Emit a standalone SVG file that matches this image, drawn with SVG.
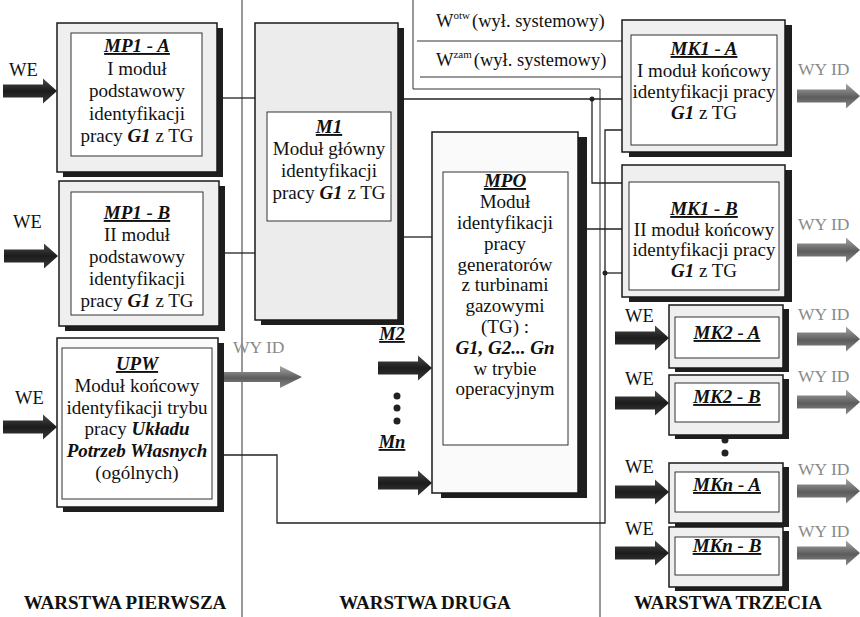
<svg xmlns="http://www.w3.org/2000/svg" xmlns:xlink="http://www.w3.org/1999/xlink" width="860" height="617" viewBox="0 0 860 617">
<defs>
<style>
.box{fill:#efefef;stroke:#1a1a1a;stroke-width:1.5}
.boxw{fill:#fafafa;stroke:#1a1a1a;stroke-width:1.5}
.boxg{fill:#ececec;stroke:#1a1a1a;stroke-width:1.5}
.inner{fill:#fff;stroke:#333;stroke-width:1}
.sh{fill:#1e1e1e}
.t{font-family:"Liberation Serif","Times New Roman",serif;font-size:19px;fill:#111;text-anchor:middle}
.ti{font-weight:bold;font-style:italic;text-decoration:underline}
.bi{font-weight:bold;font-style:italic}
.st{text-anchor:start}
.ws{font-size:18.5px}
.wy{fill:#8a8a8a;font-size:17.5px;text-anchor:start}
.lay{font-weight:bold;font-size:19px}
.wire{stroke:#222;stroke-width:1.3;fill:none}
.thin{stroke:#333;stroke-width:1;fill:none}
</style>
<linearGradient id="gWE" x1="0" y1="0" x2="0" y2="1">
<stop offset="0" stop-color="#4a4a4a"/><stop offset="0.5" stop-color="#1c1c1c"/><stop offset="1" stop-color="#3a3a3a"/>
</linearGradient>
<linearGradient id="gWY" x1="0" y1="0" x2="0" y2="1">
<stop offset="0" stop-color="#a8a8a8"/><stop offset="0.55" stop-color="#5c5c5c"/><stop offset="1" stop-color="#8a8a8a"/>
</linearGradient>
<path id="aWE" d="M-54,-6.5 H-14 V-12.5 L0,0 L-14,12.5 V6.5 H-54 Z"/>
<path id="aWY" d="M0,-6.5 H49 V-12.5 L63,0 L49,12.5 V6.5 H0 Z"/>
<path id="aWY2" d="M0,-5 H57 V-11 L79,0 L57,11 V5 H0 Z"/>
</defs>
<rect width="860" height="617" fill="#fff"/>

<g id="connectors">
<path class="thin" d="M242,0 V617"/>
<path class="thin" d="M413,0 V89 H600 V617"/>
<path class="thin" d="M417,41 H622"/>
<path class="thin" d="M420,77 H622"/>
<path class="wire" d="M223,98 H255"/>
<path class="wire" d="M225,253 H255"/>
<path class="wire" d="M404,237 H432"/>
<path class="wire" d="M404,99 H622"/>
<path class="wire" d="M592,99 V183 H622"/>
<circle cx="592" cy="99" r="2.5" fill="#222"/>
<path class="wire" d="M587,229 H622"/>
<path class="wire" d="M224,455 H277 V523 H605 V130 H622"/>
<path class="wire" d="M605,273 H622"/>
<circle cx="605" cy="273" r="2.5" fill="#222"/>
</g>

<g id="arrows">
<use href="#aWE" x="57" y="91" fill="url(#gWE)"/>
<use href="#aWE" x="58" y="256" fill="url(#gWE)"/>
<use href="#aWE" x="57" y="427" fill="url(#gWE)"/>
<use href="#aWE" x="432" y="368" fill="url(#gWE)"/>
<use href="#aWE" x="432" y="483" fill="url(#gWE)"/>
<use href="#aWE" x="669" y="338" fill="url(#gWE)"/>
<use href="#aWE" x="669" y="403" fill="url(#gWE)"/>
<use href="#aWE" x="669" y="492" fill="url(#gWE)"/>
<use href="#aWE" x="669" y="553" fill="url(#gWE)"/>
<use href="#aWY2" x="223" y="377" fill="url(#gWY)"/>
<use href="#aWY" x="797" y="96" fill="url(#gWY)"/>
<use href="#aWY" x="797" y="250" fill="url(#gWY)"/>
<use href="#aWY" x="797" y="339" fill="url(#gWY)"/>
<use href="#aWY" x="797" y="402" fill="url(#gWY)"/>
<use href="#aWY" x="797" y="491" fill="url(#gWY)"/>
<use href="#aWY" x="797" y="553" fill="url(#gWY)"/>
</g>

<g id="labels">
<text class="t st ws" x="9" y="76">WE</text>
<text class="t st ws" x="13" y="228">WE</text>
<text class="t st ws" x="15" y="404">WE</text>
<text class="t st ws" x="625" y="322">WE</text>
<text class="t st ws" x="625" y="385">WE</text>
<text class="t st ws" x="625" y="473">WE</text>
<text class="t st ws" x="625" y="535">WE</text>
<text class="t wy" x="233" y="353">WY ID</text>
<text class="t wy" x="798" y="75">WY ID</text>
<text class="t wy" x="798" y="230">WY ID</text>
<text class="t wy" x="798" y="320">WY ID</text>
<text class="t wy" x="798" y="382">WY ID</text>
<text class="t wy" x="798" y="475">WY ID</text>
<text class="t wy" x="798" y="537">WY ID</text>
<text class="t ti ws" x="392" y="340">M2</text>
<text class="t ti ws" x="392" y="448">Mn</text>
<circle cx="397" cy="396" r="3.5" fill="#222"/>
<circle cx="397" cy="408" r="3.5" fill="#222"/>
<circle cx="397" cy="421" r="3.5" fill="#222"/>
<circle cx="725" cy="440" r="3.5" fill="#222"/>
<circle cx="725" cy="453" r="3.5" fill="#222"/>
<text class="t st ws" x="436" y="27">W<tspan font-size="11" dy="-8">otw</tspan><tspan dx="2" dy="8">(wył. systemowy)</tspan></text>
<text class="t st ws" x="436" y="66">W<tspan font-size="11" dy="-8">zam</tspan><tspan dx="2" dy="8">(wył. systemowy)</tspan></text>
<text class="t lay" x="125" y="609">WARSTWA PIERWSZA</text>
<text class="t lay" x="425" y="609">WARSTWA DRUGA</text>
<text class="t lay" x="728" y="609">WARSTWA TRZECIA</text>
</g>

<g id="MP1-A">
<rect class="sh" x="63" y="28" width="160" height="149"/>
<rect class="box" x="57" y="23" width="160" height="149"/>
<rect class="inner" x="71" y="33" width="131" height="123"/>
<text class="t ti" x="137" y="52">MP1 - A</text>
<text class="t" x="137" y="74.5">I moduł</text>
<text class="t" x="137" y="97">podstawowy</text>
<text class="t" x="137" y="119.5">identyfikacji</text>
<text class="t" x="137" y="142">pracy <tspan class="bi">G1</tspan> z  TG</text>
</g>

<g id="MP1-B">
<rect class="sh" x="65" y="186" width="160" height="145"/>
<rect class="box" x="59" y="181" width="160" height="145"/>
<rect class="inner" x="71" y="192" width="132" height="123"/>
<text class="t ti" x="137" y="219">MP1 - B</text>
<text class="t" x="137" y="241">II moduł</text>
<text class="t" x="137" y="263">podstawowy</text>
<text class="t" x="137" y="285">identyfikacji</text>
<text class="t" x="137" y="307">pracy <tspan class="bi">G1</tspan> z  TG</text>
</g>

<g id="UPW">
<rect class="sh" x="63" y="343" width="161" height="169"/>
<rect class="boxw" x="57" y="338" width="161" height="169"/>
<rect class="inner" x="62" y="348" width="150" height="151"/>
<text class="t ti" x="137" y="370">UPW</text>
<text class="t" x="137" y="392">Moduł końcowy</text>
<text class="t" x="137" y="413.5">identyfikacji trybu</text>
<text class="t" x="137" y="435">pracy <tspan class="bi">Układu</tspan></text>
<text class="t bi" x="137" y="457">Potrzeb Własnych</text>
<text class="t" x="137" y="478.5">(ogólnych)</text>
</g>

<g id="M1">
<rect class="sh" x="261" y="28" width="143" height="297"/>
<rect class="boxg" x="255" y="23" width="143" height="297"/>
<rect class="inner" x="267" y="112" width="124" height="109"/>
<text class="t ti" x="329" y="133">M1</text>
<text class="t" x="329" y="155">Moduł główny</text>
<text class="t" x="329" y="177">identyfikacji</text>
<text class="t" x="329" y="199">pracy <tspan class="bi">G1</tspan> z  TG</text>
</g>

<g id="MPO">
<rect class="sh" x="441" y="137" width="146" height="361"/>
<rect class="boxw" x="432" y="132" width="146" height="361"/>
<rect class="inner" x="443" y="172" width="125" height="273"/>
<text class="t ti" x="505" y="187">MPO</text>
<text class="t" x="505" y="208">Moduł</text>
<text class="t" x="505" y="229">identyfikacji</text>
<text class="t" x="505" y="249.5">pracy</text>
<text class="t" x="505" y="270.5">generatorów</text>
<text class="t" x="505" y="291">z turbinami</text>
<text class="t" x="505" y="312">gazowymi</text>
<text class="t" x="505" y="333">(TG) :</text>
<text class="t bi" x="505" y="353.5">G1, G2... Gn</text>
<text class="t" x="505" y="374.5">w trybie</text>
<text class="t" x="505" y="395">operacyjnym</text>
</g>

<g id="MK1-A">
<rect class="sh" x="629" y="25" width="163" height="132"/>
<rect class="box" x="622" y="20" width="163" height="132"/>
<rect class="inner" x="631" y="35" width="146" height="110"/>
<text class="t ti" x="704" y="55">MK1 - A</text>
<text class="t" x="704" y="77">I moduł końcowy</text>
<text class="t" x="704" y="98">identyfikacji pracy</text>
<text class="t" x="704" y="119"><tspan class="bi">G1</tspan> z  TG</text>
</g>

<g id="MK1-B">
<rect class="sh" x="629" y="170" width="163" height="132"/>
<rect class="box" x="622" y="165" width="163" height="132"/>
<rect class="inner" x="629" y="182" width="150" height="108"/>
<text class="t ti" x="704" y="215">MK1 - B</text>
<text class="t" x="704" y="236">II moduł końcowy</text>
<text class="t" x="704" y="256">identyfikacji pracy</text>
<text class="t" x="704" y="277"><tspan class="bi">G1</tspan> z  TG</text>
</g>

<g id="MK2-A">
<rect class="sh" x="675" y="309" width="114" height="63"/>
<rect class="box" x="669" y="305" width="114" height="63"/>
<rect class="inner" x="675" y="317" width="104" height="41"/>
<text class="t ti" x="727" y="339">MK2 - A</text>
</g>

<g id="MK2-B">
<rect class="sh" x="675" y="379" width="114" height="60"/>
<rect class="box" x="669" y="375" width="114" height="60"/>
<rect class="inner" x="675" y="383" width="104" height="39"/>
<text class="t ti" x="727" y="403">MK2 - B</text>
</g>

<g id="MKn-A">
<rect class="sh" x="675" y="467" width="114" height="60"/>
<rect class="box" x="669" y="463" width="114" height="60"/>
<rect class="inner" x="675" y="472" width="104" height="40"/>
<text class="t ti" x="727" y="491">MKn - A</text>
</g>

<g id="MKn-B">
<rect class="sh" x="675" y="531" width="114" height="60"/>
<rect class="box" x="669" y="527" width="114" height="60"/>
<rect class="inner" x="675" y="537" width="104" height="38"/>
<text class="t ti" x="727" y="552">MKn - B</text>
</g>
</svg>
